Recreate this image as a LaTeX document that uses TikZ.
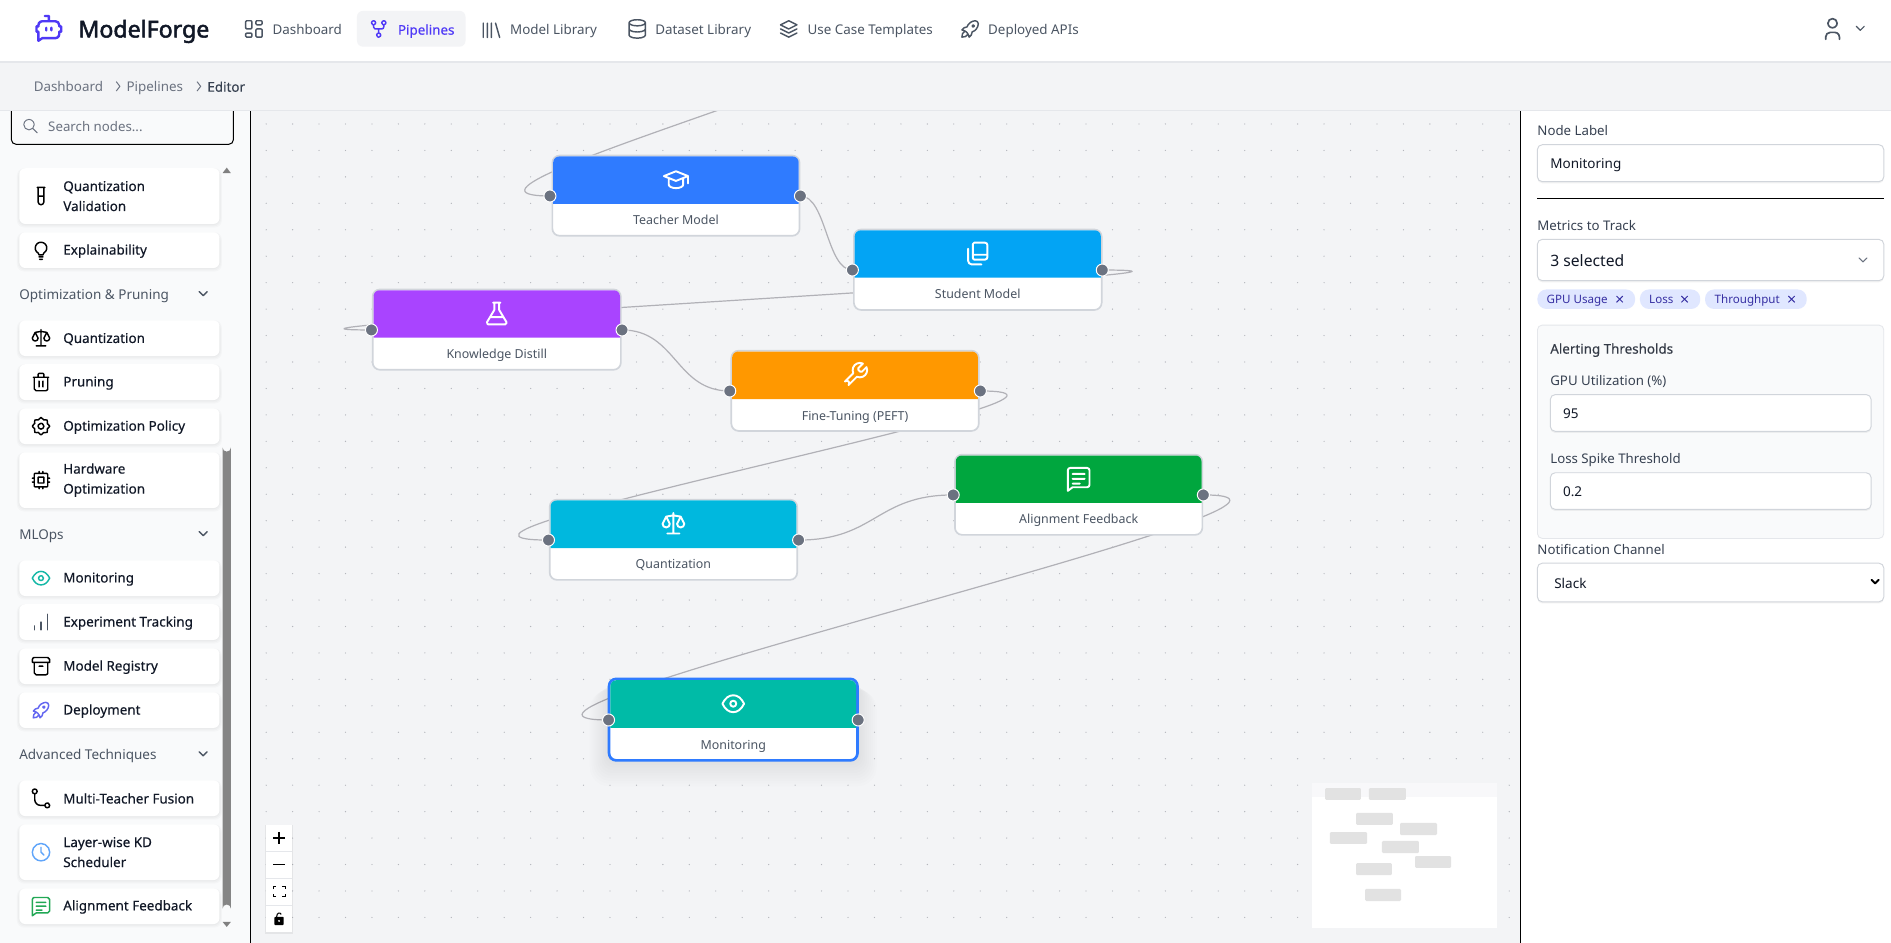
\documentclass[tikz,border=0pt]{standalone}
\usepackage{fontspec}
\setmainfont{Noto Sans}
\newfontfamily\medf[FakeBold=0.35]{Noto Sans}
\newfontfamily\brandf[FakeBold=2.2]{Noto Sans}
\usetikzlibrary{svg.path}
\definecolor{canvasbg}{HTML}{F3F4F6}
\definecolor{sidebg}{HTML}{F9FAFB}
\definecolor{rulec}{HTML}{E5E7EB}
\definecolor{nodeb}{HTML}{D1D5DB}
\definecolor{navt}{HTML}{4B5563}
\definecolor{greyt}{HTML}{6B7280}
\definecolor{darkt}{HTML}{374151}
\definecolor{inkt}{HTML}{111827}
\definecolor{indigo}{HTML}{4F39F6}
\definecolor{edgec}{HTML}{B1B1B7}
\definecolor{dotc}{HTML}{B4B6BC}
\definecolor{chipbg}{HTML}{E0E7FF}
\definecolor{chipt}{HTML}{3730A3}
\definecolor{mini}{HTML}{E2E2E2}
\definecolor{cteacher}{HTML}{2F7BFF}
\definecolor{cstudent}{HTML}{03A4F4}
\definecolor{cknow}{HTML}{A944FF}
\definecolor{cfine}{HTML}{FF9800}
\definecolor{cquant}{HTML}{00B8DE}
\definecolor{calign}{HTML}{00A63E}
\definecolor{cmon}{HTML}{00BBA7}
\definecolor{iteal}{HTML}{14B8A6}
\definecolor{iviolet}{HTML}{6366F1}
\definecolor{iblue}{HTML}{60A5FA}
\definecolor{igreen}{HTML}{22A855}
\pgfdeclarelayer{bglayer}\pgfdeclarelayer{edgelayer}\pgfdeclarelayer{toplayer}
\pgfsetlayers{bglayer,edgelayer,main,toplayer}
% closed ellipse from its left point, in four quarter arcs
\def\cq#1#2{a#1 #2 0 0 0 #1 #2 a#1 #2 0 0 0 #1 -#2 a#1 #2 0 0 0 -#1 -#2 a#1 #2 0 0 0 -#1 #2 }
% lower half of an ellipse, left to right
\def\hq#1#2{a#1 #2 0 0 0 #1 #2 a#1 #2 0 0 0 #1 -#2 }
% icon paths (24 unit box, y down)
\def\pDash{M5 4h4a1 1 0 0 1 1 1v6a1 1 0 0 1 -1 1h-4a1 1 0 0 1 -1 -1v-6a1 1 0 0 1 1 -1 M5 16h4a1 1 0 0 1 1 1v2a1 1 0 0 1 -1 1h-4a1 1 0 0 1 -1 -1v-2a1 1 0 0 1 1 -1 M15 12h4a1 1 0 0 1 1 1v6a1 1 0 0 1 -1 1h-4a1 1 0 0 1 -1 -1v-6a1 1 0 0 1 1 -1 M15 4h4a1 1 0 0 1 1 1v2a1 1 0 0 1 -1 1h-4a1 1 0 0 1 -1 -1v-2a1 1 0 0 1 1 -1}
\def\pFork{M10 18\cq{2}{2}M5 6\cq{2}{2}M15 6\cq{2}{2}M7 8v2a2 2 0 0 0 2 2h6a2 2 0 0 0 2 -2v-2 M12 12l0 4}
\def\pLib{M16 6l4 14 M12 6v14 M8 6v14 M4 6v14}
\def\pDb{M4 6\cq{8}{3}M4 6v6\hq{8}{3}v-6 M4 12v6\hq{8}{3}v-6}
\def\pStack{M12 4l-8 4l8 4l8 -4l-8 -4 M4 12l8 4l8 -4 M4 16l8 4l8 -4}
\def\pRocket{M4 13a8 8 0 0 1 7 7a6 6 0 0 0 3 -5a9 9 0 0 0 6 -8a3 3 0 0 0 -3 -3a9 9 0 0 0 -8 6a6 6 0 0 0 -5 3 M7 14a6 6 0 0 0 -3 6a6 6 0 0 0 6 -3 M14 9\cq{1}{1}}
\def\pUser{M8 7\cq{4}{4}M6 21v-2a4 4 0 0 1 4 -4h4a4 4 0 0 1 4 4v2}
\def\pChev{M6 9l6 6l6 -6}
\def\pSearch{M3 10\cq{7}{7}M21 21l-6 -6}
\def\pTube{M15 3v15a3 3 0 0 1 -3 3a3 3 0 0 1 -3 -3v-15 M9 12h6 M8 3h8}
\def\pBulb{M9 15a6 6 0 1 1 6 0a3 3 0 0 0 -1 2h-4a3 3 0 0 0 -1 -2 M10 19h4 M10.5 21.500h3}
\def\pScale{M7 20l10 0 M6 6l6 -1l6 1 M12 3l0 17 M9 12l-3 -6l-3 6\hq{3}{3}M21 12l-3 -6l-3 6\hq{3}{3}}
\def\pTrash{M4 7l16 0 M10 11l0 6 M14 11l0 6 M5 7v12a2 2 0 0 0 2 2h10a2 2 0 0 0 2 -2v-12 M9 7v-3a1 1 0 0 1 1 -1h4a1 1 0 0 1 1 1v3}
\def\pGear{M10.325 4.317c0.426 -1.756 2.924 -1.756 3.35 0a1.724 1.724 0 0 0 2.573 1.066c1.543 -0.94 3.31 0.826 2.37 2.37a1.724 1.724 0 0 0 1.065 2.572c1.756 0.426 1.756 2.924 0 3.35a1.724 1.724 0 0 0 -1.066 2.573c0.94 1.543 -0.826 3.31 -2.37 2.37a1.724 1.724 0 0 0 -2.572 1.065c-0.426 1.756 -2.924 1.756 -3.35 0a1.724 1.724 0 0 0 -2.573 -1.066c-1.543 0.94 -3.31 -0.826 -2.37 -2.37a1.724 1.724 0 0 0 -1.065 -2.572c-1.756 -0.426 -1.756 -2.924 0 -3.35a1.724 1.724 0 0 0 1.066 -2.573c-0.94 -1.543 0.826 -3.31 2.37 -2.37c1 0.608 2.296 0.07 2.572 -1.065 M9 12\cq{3}{3}}
\def\pCpu{M6 5h12a1 1 0 0 1 1 1v12a1 1 0 0 1 -1 1h-12a1 1 0 0 1 -1 -1v-12a1 1 0 0 1 1 -1 M9 9h6v6h-6z M3 10h2 M3 14h2 M10 3v2 M14 3v2 M21 10h-2 M21 14h-2 M14 21v-2 M10 21v-2}
\def\pEye{M9.5 12\cq{2.500}{2.500}M21 12c-2.4 4.800 -5.4 7 -9 7c-3.6 0 -6.6 -2.200 -9 -7c2.4 -4.800 5.4 -7 9 -7c3.6 0 6.6 2.200 9 7}
\def\pBars{M5 20v-4 M12 20v-8 M19 20v-16}
\def\pBox{M5 3h14a2 2 0 0 1 2 2v3h-18v-3a2 2 0 0 1 2 -2 M5 8v11a2 2 0 0 0 2 2h10a2 2 0 0 0 2 -2v-11 M10 12l4 0}
\def\pBranch{M3 5\cq{2.500}{2.500}M5.500 7.500v6a6 6 0 0 0 6 6h4 M16 19.500\cq{2.500}{2.500}}
\def\pClock{M3 12\cq{9}{9}M12 7v5l3 3}
\def\pMsg{M5 3h14a2 2 0 0 1 2 2v12a2 2 0 0 1 -2 2h-12l-4 3v-17a2 2 0 0 1 2 -2z M7 8h10 M7 12h10 M7 16h6}
\def\pTool{M14.7 6.3a1 1 0 0 0 0 1.4l1.6 1.6a1 1 0 0 0 1.4 0l3.77 -3.77a6 6 0 0 1 -7.94 7.94l-6.91 6.91a2.12 2.12 0 0 1 -3 -3l6.91 -6.91a6 6 0 0 1 7.94 -7.94l-3.76 3.76z}
\def\pCap{M22 9l-10 -4l-10 4l10 4l10 -4v6 M6 10.600v5.400\hq{6}{3}v-5.400}
\def\pBook{M9 3h9a2 2 0 0 1 2 2v10a2 2 0 0 1 -2 2h-9a1 1 0 0 1 -1 -1v-12a1 1 0 0 1 1 -1z M8 13h12 M4 8v10a3 3 0 0 0 3 3h8}
\def\pFlask{M9 3h6 M10 3v6l-6 10a1.500 1.500 0 0 0 1 2h14a1.500 1.500 0 0 0 1 -2l-6 -10v-6 M7 15h10}
\def\pRobot{M7 7h10a3 3 0 0 1 3 3v1h1.500v4h-1.500v2a3 3 0 0 1 -3 3h-10l-3 2v-7h-1.500v-4h1.500v-1a3 3 0 0 1 3 -3z M12 7v-4h-3 M10 12v2 M14 12v2}
\newcommand\ico[6]{\edef\icopath{#6}\def\icodraw##1{\draw[shift={(#1,#2)},xscale=#3,yscale=-#3,shift={(-12pt,-12pt)},line width=#4pt,draw=#5,line cap=round,line join=round] svg {##1};}\expandafter\icodraw\expandafter{\icopath}}
% text: name x y anchor size colour font text
\newcommand\tx[8]{\node[inner sep=0pt,outer sep=0pt,anchor=#4,text=#6,font=#7\fontsize{#5}{#5}\selectfont,text height={0.95*#5pt},text depth={0.15*#5pt}] (#1) at (#2,#3) {#8};}
\newcommand\softshadow[6]{%x1 y1 x2 y2 spread alpha
 \foreach \k in {1,...,3}{\fill[black,opacity=#6,rounded corners=6] ({#1-#5*\k/3},{#2+#5*(3-\k)/3}) rectangle ({#3+#5*\k/3},{#4+#5*\k/2});}}
% sidebar card
\newcommand\card[9]{% name y1 y2 icon colour iconY lw textshift text
 \softshadow{16}{#2}{182}{#3}{2}{0.018}
 \node[fill=white,rounded corners=5,inner sep=0pt,outer sep=0pt,minimum width=166pt,minimum height={(#3-#2)*1pt}] (#1) at (99,{(#2+#3)/2}) {};
 \ico{34}{#6}{0.8}{#7}{#5}{#4}
 \node[inner sep=0pt,anchor=west,align=left,text=inkt,font=\medf\fontsize{11.15}{16.6}\selectfont] (#1t) at (52.3,{(#2+#3)/2+#8}) {#9};}
% flow node: name x1 y1 x2 y2 ybar colour icon label
\newcommand\flow[9]{%
 \node[fill=white,draw=nodeb,line width=1.4pt,rounded corners=6,inner sep=0pt,outer sep=0pt,minimum width={(#4-#2)*1pt},minimum height={(#5-#3)*1pt}] (#1) at ({(#2+#4)/2},{(#3+#5)/2}) {};
 \fill[#7] ({#2+0.7},#6) [rounded corners=5] -- ({#2+0.7},{#3+0.7}) -- ({#4-0.7},{#3+0.7}) [sharp corners] -- ({#4-0.7},#6) -- cycle;
 \ico{{(#2+#4)/2}}{{(#3+#6)/2}}{1}{1.6}{white}{#8}
 \tx{#1t}{{(#2+#4)/2}}{{(#6+#5)/2}}{center}{10.3}{navt}{}{#9}}
\tikzset{handle/.style={circle,fill=greyt,draw=white,line width=0.8pt,inner sep=0pt,outer sep=0pt,minimum size=10pt},
 flowedge/.style={draw=edgec,line width=1pt}}
\newcommand\field[5]{% name x1 y1 x2 y2
 \fill[black,opacity=0.05,rounded corners=4] (#2,{#3+1}) rectangle (#4,{#5+1.4});
 \node[draw=nodeb,fill=white,line width=0.8pt,rounded corners=4,inner sep=0pt,outer sep=0pt,minimum width={(#4-#2)*1pt},minimum height={(#5-#3)*1pt}] (#1) at ({(#2+#4)/2},{(#3+#5)/2}) {};}
\newcommand\chip[6]{% name x1 x2 text textx closex
 \node[fill=chipbg,rounded corners=7.5,inner sep=0pt,outer sep=0pt,minimum width={(#3-#2)*1pt},minimum height=16.2pt] (#1) at ({(#2+#3)/2},248.1) {};
 \tx{#1t}{#5}{248.1}{west}{9.6}{chipt}{}{#4}
 \draw[chipt,line width=0.8pt] ({#6-2.6},245.5) -- ({#6+2.6},250.7) ({#6-2.6},250.7) -- ({#6+2.6},245.5);}
\begin{document}
\begin{tikzpicture}[x=1pt,y=-1pt]
\useasboundingbox (0,0) rectangle (1568,781.9);
\begin{pgfonlayer}{bglayer}
\fill[canvasbg] (208,92) rectangle (1261,781.9);
\foreach \i in {0,...,47}{\foreach \j in {0,...,31}{
  \fill[dotc] ({220.7+21.93*\i},{102.8+21.93*\j}) circle (0.55);}}
\end{pgfonlayer}
% ---- flow nodes
\flow{teacher}{458}{129}{663}{195.5}{169}{cteacher}{\pCap}{Teacher Model}
\flow{student}{708}{190.3}{913.5}{257}{230.2}{cstudent}{\pBook}{Student Model}
\flow{know}{309}{240}{514.8}{306.6}{280}{cknow}{\pFlask}{Knowledge Distill}
\flow{fine}{606.4}{290.8}{811.6}{357.3}{331}{cfine}{\pTool}{Fine-Tuning (PEFT)}
\flow{quant}{455.8}{414.3}{661}{480.8}{454.4}{cquant}{\pScale}{Quantization}
\flow{align}{791.8}{377}{997}{443.5}{417}{calign}{\pMsg}{Alignment Feedback}
\foreach \k in {1,...,10}{\fill[black,opacity=0.009,rounded corners={6+\k}] ({505-1.6*\k},{566+0.6*\k}) rectangle ({711+1.6*\k},{630+2.2*\k});}
\node[fill=white,draw=cteacher,line width=2.2pt,rounded corners=6,inner sep=0pt,outer sep=0pt,minimum width=206pt,minimum height=67.6pt] (monitor) at (608,596.7) {};
\fill[cmon] (506.1,603.6) [rounded corners=5] -- (506.1,564) -- (709.9,564) [sharp corners] -- (709.9,603.6) -- cycle;
\ico{608}{583.5}{1}{1.6}{white}{\pEye}
\tx{monitort}{608}{617}{center}{10.3}{navt}{}{Monitoring}
% ---- handles
\node[handle] (teacherL) at (456,162.5) {};
\node[handle] (teacherR) at (663.7,162.5) {};
\node[handle] (studentL) at (706.8,223.9) {};
\node[handle] (studentR) at (914,223.9) {};
\node[handle] (knowL) at (308,273.6) {};
\node[handle] (knowR) at (515.8,273.6) {};
\node[handle] (fineL) at (605.1,324.2) {};
\node[handle] (fineR) at (812.9,324.2) {};
\node[handle] (quantL) at (454.8,447.8) {};
\node[handle] (quantR) at (662.2,447.8) {};
\node[handle] (alignL) at (790.4,410.4) {};
\node[handle] (alignR) at (997.8,410.4) {};
\node[handle] (monitorL) at (504.6,597) {};
\node[handle] (monitorR) at (711.6,597) {};
\coordinate (offtop) at (721,10);
% ---- edges
\begin{pgfonlayer}{edgelayer}
\draw[flowedge] (offtop) .. controls +(195,0) and +(-138,0) .. (teacherL.center);
\draw[flowedge] (teacherR.center) .. controls +(21.5,0) and +(-21.5,0) .. (studentL.center);
\draw[flowedge] (studentR.center) .. controls +(190,0) and +(-182,0) .. (knowL.center);
\draw[flowedge] (knowR.center) .. controls +(45,0) and +(-45,0) .. (fineL.center);
\draw[flowedge] (fineR.center) .. controls +(150,0) and +(-160,0) .. (quantL.center);
\draw[flowedge] (quantR.center) .. controls +(64,0) and +(-64,0) .. (alignL.center);
\draw[flowedge] (alignR.center) .. controls +(165,0) and +(-165,0) .. (monitorL.center);
\end{pgfonlayer}
% ---- minimap
\fill[canvasbg!60!white] (1088,649) rectangle (1241.6,660.6);
\fill[white] (1088,660.6) rectangle (1241.6,769.2);
\foreach \a/\b/\c/\d in {1098.7/653.4/1128.5/663.3,1135/653.4/1165.8/663.3,1124.4/674.1/1155/684,1160.9/682.4/1191.6/692.4,1102.8/689.9/1133.5/699.8,1145.9/697.3/1176.6/707.3,1173.3/709.8/1203.2/719.7,1124.4/715.6/1154.2/725.6,1131.9/737.1/1161.7/747.1}{
 \fill[mini,rounded corners=1] (\a,\b) rectangle (\c,\d);}
% ---- zoom controls
\fill[black,opacity=0.06] (220,684) rectangle (243,774.5);
\node[fill=white,inner sep=0pt,outer sep=0pt,minimum width=21.6pt,minimum height=89pt] (controls) at (231.5,728.5) {};
\foreach \y in {706,728.3,750.5}{\draw[rulec,line width=0.6pt] (220.7,\y) -- (242.3,\y);}
\draw[black,line width=1.2pt] (226.4,694.9) -- (236.6,694.9) (231.5,689.8) -- (231.5,700);
\draw[black,line width=1.2pt] (226.4,717) -- (236.6,717);
\draw[black,line width=1pt] (226.5,737.5) -- (226.5,735.2) -- (229,735.2) (234,735.2) -- (236.5,735.2) -- (236.5,737.5) (236.5,741.5) -- (236.5,743.6) -- (234,743.6) (229,743.6) -- (226.5,743.6) -- (226.5,741.5);
\fill[black,rounded corners=0.6] (227.6,760.2) rectangle (235.2,767);
\fill[white] (231.4,763.6) circle (0.9);
\draw[black,line width=0.9pt] (229.4,760.2) .. controls (229.4,756.6) and (232.4,756.2) .. (233.2,758.2);
% ---- left sidebar
\fill[sidebg] (0,92) rectangle (207,781.9);
\draw[black,line width=0.83pt] (207.7,92) -- (207.7,781.9);
\draw[black,fill=sidebg,line width=0.85pt,rounded corners=4] (9.4,90) -- (9.4,119.7) -- (193.6,119.7) -- (193.6,90);
\ico{25.3}{104.6}{0.62}{0.8}{greyt}{\pSearch}
\tx{searcht}{40}{104.6}{west}{11}{greyt}{}{Search nodes...}
\card{cardqv}{139.5}{185.7}{\pTube}{black}{162.6}{1.2}{0}{Quantization\\Validation}
\card{cardex}{192.6}{222.2}{\pBulb}{black}{207.4}{1.2}{0.8}{Explainability}
\tx{headopt}{16}{244}{west}{11.2}{navt}{}{Optimization \& Pruning}
\ico{168.5}{243.5}{0.55}{1.2}{navt}{\pChev}
\card{cardqu}{265.6}{295.2}{\pScale}{black}{280.4}{1.2}{0.8}{Quantization}
\card{cardpr}{302}{331.7}{\pTrash}{black}{316.8}{1.2}{0.8}{Pruning}
\card{cardop}{338.6}{368.2}{\pGear}{black}{353.4}{1.2}{0.8}{Optimization Policy}
\card{cardhw}{375}{421.2}{\pCpu}{black}{398.1}{1.2}{0}{Hardware\\Optimization}
\tx{headml}{16}{443}{west}{11.2}{navt}{}{MLOps}
\ico{168.5}{442.5}{0.55}{1.2}{navt}{\pChev}
\card{cardmo}{464.6}{494.2}{\pEye}{iteal}{479.4}{1.2}{0.8}{Monitoring}
\card{cardet}{501}{530.6}{\pBars}{navt}{515.8}{1.2}{0.8}{Experiment Tracking}
\card{cardmr}{537.6}{567.2}{\pBox}{black}{552.4}{1.2}{0.8}{Model Registry}
\card{carddp}{574}{603.6}{\pRocket}{iviolet}{588.8}{1.2}{0.8}{Deployment}
\tx{headad}{16}{625.5}{west}{11.2}{navt}{}{Advanced Techniques}
\ico{168.5}{625}{0.55}{1.2}{navt}{\pChev}
\card{cardmt}{647}{676.7}{\pBranch}{black}{661.8}{1.2}{0.2}{Multi-Teacher Fusion}
\card{cardlw}{683.5}{729.7}{\pClock}{iblue}{706.6}{1.2}{0}{Layer-wise KD\\Scheduler}
\card{cardaf}{736.6}{766.2}{\pMsg}{igreen}{751.4}{1.2}{0.6}{Alignment Feedback}
\fill[gray!95!black,opacity=0.9] (184.5,371) arc[start angle=180,end angle=0,radius=3.5] -- (191.5,753.5) arc[start angle=0,end angle=-180,radius=3.5] -- cycle;
\fill[gray] (188,139) -- (191.5,143.6) -- (184.5,143.6) -- cycle;
\fill[gray] (188,768.6) -- (191.5,764.3) -- (184.5,764.3) -- cycle;
% ---- right panel
\fill[white] (1261,92) rectangle (1568,781.9);
\draw[black,line width=0.83pt] (1260.8,92) -- (1260.8,781.9);
\tx{lblnode}{1274.8}{107.8}{west}{11}{darkt}{}{Node Label}
\field{fldlabel}{1274.8}{120}{1562}{150.6}
\tx{fldlabelt}{1285.5}{135.3}{west}{11.2}{inkt}{}{Monitoring}
\draw[black,line width=0.83pt] (1274.5,164.3) -- (1562.4,164.3);
\tx{lblmetrics}{1274.8}{186.6}{west}{11}{darkt}{}{Metrics to Track}
\field{fldsel}{1274.8}{198.5}{1562}{232.7}
\tx{fldselt}{1285.5}{216}{west}{13}{inkt}{}{3 selected}
\ico{1544.8}{215.5}{0.55}{0.9}{greyt}{\pChev}
\chip{chipa}{1274.8}{1355.8}{GPU Usage}{1282.5}{1343}
\chip{chipb}{1359.8}{1409.8}{Loss}{1367.5}{1396.8}
\chip{chipc}{1413.8}{1498.1}{Throughput}{1421.8}{1485.5}
\node[draw=rulec,fill=sidebg,line width=0.7pt,rounded corners=4,inner sep=0pt,outer sep=0pt,minimum width=287.2pt,minimum height=176.9pt] (alertbox) at (1418.4,358) {};
\tx{lblalert}{1285.5}{288.8}{west}{11.1}{inkt!85!white}{\medf}{Alerting Thresholds}
\tx{lblgpu}{1285.5}{315}{west}{11}{darkt}{}{GPU Utilization (\%)}
\field{fldgpu}{1285.5}{327.2}{1551.5}{357.6}
\tx{fldgput}{1296.1}{342.4}{west}{11.2}{inkt}{}{95}
\tx{lblloss}{1285.5}{380}{west}{11}{darkt}{}{Loss Spike Threshold}
\field{fldloss}{1285.5}{392}{1551.5}{422.3}
\tx{fldlosst}{1296.1}{407.2}{west}{11.2}{inkt}{}{0.2}
\tx{lblnotif}{1274.8}{455.5}{west}{11}{darkt}{}{Notification Channel}
\field{fldnotif}{1274.8}{467}{1562}{499}
\tx{fldnotift}{1288.8}{483.5}{west}{11.2}{inkt}{}{Slack}
\ico{1554.8}{482.2}{0.5}{1.7}{black}{\pChev}
% ---- top bars
\begin{pgfonlayer}{toplayer}
\fill[canvasbg] (0,52) rectangle (1568,92);
\fill[rulec] (0,91.6) rectangle (1568,92.2);
\fill[white] (0,0) rectangle (1568,50.6);
\fill[rulec] (0,50.6) rectangle (1568,52.2);
\fill[canvasbg,rounded corners=5] (296,9) rectangle (386,38.7);
\ico{40.5}{23}{1.08}{2}{indigo}{\pRobot}
\tx{brand}{65}{23.4}{west}{19.2}{inkt}{\brandf}{ModelForge}
\ico{210.5}{24}{0.85}{1.2}{navt}{\pDash}
\tx{navdash}{226}{24.3}{west}{11.1}{navt}{}{Dashboard}
\ico{314}{24}{0.85}{1.2}{indigo}{\pFork}
\tx{navpipe}{330}{24.3}{west}{11.1}{indigo}{\medf}{Pipelines}
\ico{407.5}{24.3}{0.85}{1.2}{navt}{\pLib}
\tx{navmodel}{423}{24.3}{west}{11.1}{navt}{}{Model Library}
\ico{528.4}{24}{0.85}{1.2}{navt}{\pDb}
\tx{navdata}{543.4}{24.3}{west}{11.1}{navt}{}{Dataset Library}
\ico{654}{24}{0.85}{1.2}{navt}{\pStack}
\tx{navuse}{669.7}{24.3}{west}{11.1}{navt}{}{Use Case Templates}
\ico{804.4}{24}{0.85}{1.2}{navt}{\pRocket}
\tx{navapi}{819.4}{24.3}{west}{11.1}{navt}{}{Deployed APIs}
\ico{1519.5}{24}{0.95}{1.4}{navt}{\pUser}
\ico{1542.5}{23.5}{0.55}{1}{navt}{\pChev}
\tx{crumba}{28}{71.6}{west}{11.1}{greyt}{}{Dashboard}
\draw[greyt,line width=0.8pt] (96.4,67.7) -- (99.4,71.6) -- (96.4,75.5);
\tx{crumbb}{105}{71.6}{west}{11.1}{greyt}{}{Pipelines}
\draw[greyt,line width=0.8pt] (163.4,67.7) -- (166.4,71.6) -- (163.4,75.5);
\tx{crumbc}{172}{71.6}{west}{11.1}{darkt}{\medf}{Editor}
\end{pgfonlayer}
\end{tikzpicture}
\end{document}
